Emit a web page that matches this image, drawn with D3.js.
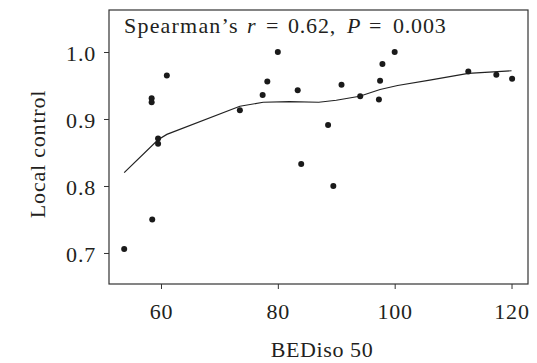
<!DOCTYPE html>
<html>
<head>
<meta charset="utf-8">
<script src="https://cdn.jsdelivr.net/npm/d3@7"></script>
<style>
  body { margin: 0; background: #fff; }
  svg text { font-family: "Liberation Serif", "Times New Roman", serif; fill: #231f20; }
</style>
</head>
<body>
<svg width="537" height="363"></svg>
<script>
// BEDiso 50 vs local control, one entry per lesion
var bediso = [80, 61, 58.4, 58.4, 59.5, 59.5, 73.5, 77.4, 78.2, 83.4, 84, 100, 97.9, 90.9, 97.5, 94.1, 97.3, 88.6, 112.6, 117.4, 120.1, 89.5, 58.5, 53.7];
var localControl = [1.0, 0.965, 0.931, 0.925, 0.871, 0.863, 0.913, 0.936, 0.956, 0.943, 0.833, 1.0, 0.982, 0.951, 0.957, 0.934, 0.929, 0.891, 0.971, 0.966, 0.960, 0.80, 0.75, 0.706];

// smoothed fit line
var fitX = [53.7, 59.5, 61, 73.5, 77.5, 82, 87, 90, 94, 97.5, 100.5, 106, 112.6, 120];
var fitY = [0.820, 0.869, 0.877, 0.919, 0.925, 0.926, 0.925, 0.928, 0.934, 0.944, 0.950, 0.958, 0.968, 0.972];

var xTicks = [60, 80, 100, 120];
var yTicks = [0.7, 0.8, 0.9, 1.0];

var svg = d3.select('svg');
var plotL = 109, plotR = 528, plotT = 10, plotB = 284;

var x = d3.scaleLinear().domain([51.1, 122.82]).range([plotL, plotR]);
var y = d3.scaleLinear().domain([0.6537, 1.0627]).range([plotB, plotT]);

// x axis
var gx = svg.append('g')
  .attr('transform', `translate(0, ${plotB})`)
  .call(d3.axisBottom(x).tickValues(xTicks).tickSize(5).tickPadding(14).tickFormat(d3.format('d')));
gx.select('.domain').remove();
gx.selectAll('line').attr('stroke', '#333');
gx.selectAll('text')
  .style('font-size', '22px')
  .style('letter-spacing', '0.8px');
gx.attr('font-family', null);

// y axis
var gy = svg.append('g')
  .attr('transform', `translate(${plotL}, 0)`)
  .call(d3.axisLeft(y).tickValues(yTicks).tickSize(5).tickPadding(8).tickFormat(d3.format('.1f')));
gy.select('.domain').remove();
gy.selectAll('line').attr('stroke', '#333');
gy.selectAll('text')
  .attr('dy', '0.4em')
  .style('font-size', '22px')
  .style('letter-spacing', '0.8px');
gy.attr('font-family', null);

// frame
svg.append('rect')
  .attr('x', plotL).attr('y', plotT)
  .attr('width', plotR - plotL).attr('height', plotB - plotT)
  .attr('fill', 'none').attr('stroke', '#333').attr('stroke-width', 1.2);

// fit line
var line = d3.line()
  .x(function (d, i) { return x(fitX[i]); })
  .y(function (d, i) { return y(fitY[i]); });
svg.append('path')
  .datum(fitX)
  .attr('d', line)
  .attr('fill', 'none')
  .attr('stroke', '#222')
  .attr('stroke-width', 1.2);

// points
svg.selectAll('circle.pt')
  .data(bediso)
  .enter()
  .append('circle')
  .attr('class', 'pt')
  .attr('cx', function (d) { return x(d); })
  .attr('cy', function (d, i) { return y(localControl[i]); })
  .attr('r', 3)
  .attr('fill', '#1a1a1a');

// annotation
var note = svg.append('text')
  .attr('y', 33)
  .style('font-size', '22px');
note.append('tspan').attr('x', 124).style('letter-spacing', '1.2px').text('Spearman\u2019s');
note.append('tspan').attr('x', 247).style('font-style', 'italic').text('r');
note.append('tspan').attr('x', 266).text('=');
note.append('tspan').attr('x', 288).style('letter-spacing', '0.8px').text('0.62,');
note.append('tspan').attr('x', 347).style('font-style', 'italic').text('P');
note.append('tspan').attr('x', 369).text('=');
note.append('tspan').attr('x', 393).style('letter-spacing', '0.8px').text('0.003');

// axis titles
svg.append('text')
  .attr('x', 322).attr('y', 357)
  .attr('text-anchor', 'middle')
  .style('font-size', '22px')
  .style('letter-spacing', '0.6px')
  .text('BEDiso 50');

svg.append('text')
  .attr('transform', 'translate(45, 154) rotate(-90)')
  .attr('text-anchor', 'middle')
  .style('font-size', '22px')
  .style('letter-spacing', '0.8px')
  .text('Local control');
</script>
</body>
</html>
